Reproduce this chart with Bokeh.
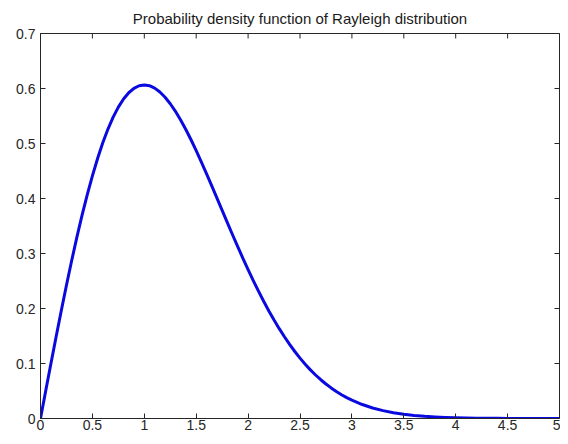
import math
from bokeh.plotting import figure
from bokeh.models import LinearAxis, FixedTicker, Range1d
from bokeh.embed import file_html
from bokeh.resources import INLINE

# Values
x_vals = [0.0, 0.05, 0.1, 0.15, 0.2, 0.25, 0.3, 0.35, 0.4, 0.45,
          0.5, 0.55, 0.6, 0.65, 0.7, 0.75, 0.8, 0.85, 0.9, 0.95,
          1.0, 1.05, 1.1, 1.15, 1.2, 1.25, 1.3, 1.35, 1.4, 1.45,
          1.5, 1.55, 1.6, 1.65, 1.7, 1.75, 1.8, 1.85, 1.9, 1.95,
          2.0, 2.05, 2.1, 2.15, 2.2, 2.25, 2.3, 2.35, 2.4, 2.45,
          2.5, 2.55, 2.6, 2.65, 2.7, 2.75, 2.8, 2.85, 2.9, 2.95,
          3.0, 3.1, 3.2, 3.3, 3.4, 3.5, 3.6, 3.7, 3.8, 3.9,
          4.0, 4.1, 4.2, 4.3, 4.4, 4.5, 4.6, 4.7, 4.8, 4.9, 5.0]
pdf_vals = [0.0, 0.0499, 0.0995, 0.1483, 0.1960, 0.2423, 0.2868, 0.3292, 0.3692, 0.4067,
            0.4412, 0.4728, 0.5012, 0.5262, 0.5479, 0.5661, 0.5809, 0.5923, 0.6003, 0.6050,
            0.6065, 0.6051, 0.6007, 0.5936, 0.5841, 0.5723, 0.5585, 0.5427, 0.5254, 0.5068,
            0.4870, 0.4662, 0.4448, 0.4229, 0.4007, 0.3785, 0.3562, 0.3341, 0.3125, 0.2913,
            0.2707, 0.2507, 0.2316, 0.2131, 0.1956, 0.1790, 0.1633, 0.1486, 0.1347, 0.1218,
            0.1098, 0.0988, 0.0884, 0.0791, 0.0705, 0.0627, 0.0556, 0.0491, 0.0433, 0.0380,
            0.0333, 0.0254, 0.0191, 0.0143, 0.0105, 0.0076, 0.0055, 0.0039, 0.0028, 0.0019,
            0.0013, 0.0009, 0.0006, 0.0004, 0.0003, 0.0002, 0.0001, 0.0001, 0.0001, 0.0000, 0.0000]
x_ticks = [0, 0.5, 1, 1.5, 2, 2.5, 3, 3.5, 4, 4.5, 5]
y_ticks = [0, 0.1, 0.2, 0.3, 0.4, 0.5, 0.6, 0.7]
title_text = "Probability density function of Rayleigh distribution"

FONT = "Liberation Sans"
AX = "#262626"

p = figure(width=560, height=436, output_backend="svg", toolbar_location=None,
           x_range=Range1d(0, 5), y_range=Range1d(0, 0.7),
           x_axis_type=None, y_axis_type=None,
           min_border_left=40, min_border_right=1, min_border_top=32, min_border_bottom=18)
p.grid.visible = False
p.outline_line_color = AX
p.outline_line_width = 1
p.background_fill_color = "white"
p.border_fill_color = "white"

p.title.text = title_text
p.title.align = "center"
p.title.text_font = FONT
p.title.text_font_size = "15px"
p.title.text_font_style = "normal"
p.title.text_color = "#1a1a1a"
p.title.padding = 3
p.title.standoff = 8

def make_axis(ticks):
    ax = LinearAxis(ticker=FixedTicker(ticks=ticks))
    ax.axis_line_color = AX
    ax.major_tick_line_color = AX
    ax.major_tick_in = 5
    ax.major_tick_out = 0
    ax.minor_tick_line_color = None
    ax.major_label_text_font = FONT
    ax.major_label_text_color = AX
    ax.major_label_text_font_size = "14px"
    ax.major_label_standoff = 5
    return ax

xaxis = make_axis(x_ticks)
xaxis.major_label_standoff = 1
p.add_layout(xaxis, "below")
p.add_layout(make_axis(y_ticks), "left")

# inward ticks on the top and right edges of the box (half of each dash is clipped by the frame)
p.scatter(x_ticks, [y_ticks[-1]] * len(x_ticks), marker="dash", size=10, angle=math.pi / 2,
          line_color=AX, line_width=1)
p.scatter([x_ticks[-1]] * len(y_ticks), y_ticks, marker="dash", size=10,
          line_color=AX, line_width=1)

p.line(x_vals, pdf_vals, line_color="#0a0ae0", line_width=3, line_join="round", line_cap="round")

open("out.html", "w").write(file_html(p, INLINE))
